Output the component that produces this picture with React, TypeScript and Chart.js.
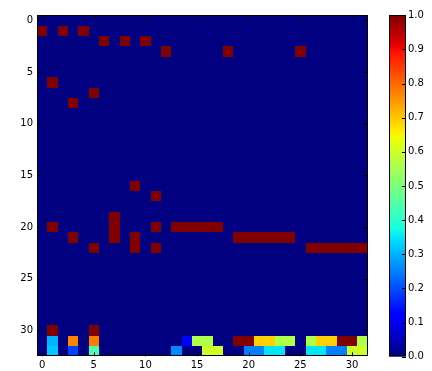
import React, { useEffect, useRef } from "react";
import { Chart, registerables } from "chart.js";
Chart.register(...registerables);

const nRows = 33;
const nCols = 32;
const xTicks = [0, 5, 10, 15, 20, 25, 30];
const yTicks = [0, 5, 10, 15, 20, 25, 30];
const cbTicks = [0, 0.1, 0.2, 0.3, 0.4, 0.5, 0.6, 0.7, 0.8, 0.9, 1.0];

// cells equal to 1.0 in rows 0..29: row -> columns
const fullRow1 = [0, 2, 4];
const fullRow2 = [6, 8, 10];
const fullRow3 = [12, 18, 25];
const fullRow6 = [1];
const fullRow7 = [5];
const fullRow8 = [3];
const fullRow16 = [9];
const fullRow17 = [11];
const fullRow19 = [7];
const fullRow20 = [1, 7, 11, 13, 14, 15, 16, 17];
const fullRow21 = [3, 7, 9, 19, 20, 21, 22, 23, 24];
const fullRow22 = [5, 9, 11, 26, 27, 28, 29, 30, 31];

// last three rows, full values
const row30 = [0, 1, 0, 0, 0, 1, 0, 0, 0, 0, 0, 0, 0, 0, 0, 0, 0, 0, 0, 0, 0, 0, 0, 0, 0, 0, 0, 0, 0, 0, 0, 0];
const row31 = [0, 0.3, 0, 0.77, 0, 0.78, 0, 0, 0, 0, 0, 0, 0, 0, 0.12, 0.56, 0.56, 0, 0, 1, 1, 0.69, 0.69, 0.56, 0.56, 0, 0.56, 0.69, 0.69, 1, 1, 0.56];
const row32 = [0, 0.32, 0, 0.19, 0, 0.44, 0, 0, 0, 0, 0, 0, 0, 0.26, 0, 0, 0.6, 0.6, 0, 0, 0.25, 0.25, 0.35, 0.35, 0, 0, 0.35, 0.35, 0.25, 0.25, 0.6, 0.6];

const fullRows: [number, number[]][] = [
  [1, fullRow1], [2, fullRow2], [3, fullRow3], [6, fullRow6], [7, fullRow7], [8, fullRow8],
  [16, fullRow16], [17, fullRow17], [19, fullRow19], [20, fullRow20], [21, fullRow21], [22, fullRow22],
];

function buildMatrix(): number[][] {
  const m: number[][] = [];
  for (let r = 0; r < nRows; r++) m.push(new Array(nCols).fill(0));
  fullRows.forEach(([r, cols]) => cols.forEach((c) => (m[r][c] = 1)));
  m[30] = row30.slice();
  m[31] = row31.slice();
  m[32] = row32.slice();
  return m;
}

function interp(stops: [number, number][], v: number) {
  for (let i = 1; i < stops.length; i++) {
    const [x0, y0] = stops[i - 1];
    const [x1, y1] = stops[i];
    if (v <= x1) return y0 + ((v - x0) / (x1 - x0)) * (y1 - y0);
  }
  return stops[stops.length - 1][1];
}
const jetR: [number, number][] = [[0, 0], [0.35, 0], [0.66, 1], [0.89, 1], [1, 0.5]];
const jetG: [number, number][] = [[0, 0], [0.125, 0], [0.375, 1], [0.64, 1], [0.91, 0], [1, 0]];
const jetB: [number, number][] = [[0, 0.5], [0.11, 1], [0.34, 1], [0.65, 0], [1, 0]];
function jet(v: number) {
  const t = Math.max(0, Math.min(1, v));
  const r = Math.round(interp(jetR, t) * 255);
  const g = Math.round(interp(jetG, t) * 255);
  const b = Math.round(interp(jetB, t) * 255);
  return `rgb(${r},${g},${b})`;
}

const FONT = { family: "DejaVu Sans", size: 10 };

const heatPlugin = {
  id: "heatCells",
  beforeDatasetsDraw(chart: any) {
    const { ctx, chartArea, scales } = chart;
    const xs = scales.x;
    const ys = scales.y;
    ctx.save();
    ctx.beginPath();
    ctx.rect(chartArea.left, chartArea.top, chartArea.right - chartArea.left, chartArea.bottom - chartArea.top);
    ctx.clip();
    const pts = chart.data.datasets[0].data as any[];
    pts.forEach((p) => {
      const xa = xs.getPixelForValue(p.x - 0.5);
      const xb = xs.getPixelForValue(p.x + 0.5);
      const ya = ys.getPixelForValue(p.y - 0.5);
      const yb = ys.getPixelForValue(p.y + 0.5);
      const x0 = Math.round(Math.min(xa, xb));
      const x1 = Math.round(Math.max(xa, xb));
      const y0 = Math.round(Math.min(ya, yb));
      const y1 = Math.round(Math.max(ya, yb));
      ctx.fillStyle = jet(p.v);
      ctx.fillRect(x0, y0, x1 - x0, y1 - y0);
    });
    ctx.restore();
  },
  afterDatasetsDraw(chart: any) {
    const { ctx, chartArea, scales } = chart;
    const { left, right, top, bottom } = chartArea;
    ctx.save();
    ctx.strokeStyle = "#000";
    ctx.lineWidth = 1;
    ctx.beginPath();
    xTicks.forEach((v) => {
      const px = Math.round(scales.x.getPixelForValue(v)) + 0.5;
      ctx.moveTo(px, top);
      ctx.lineTo(px, top + 4);
      ctx.moveTo(px, bottom);
      ctx.lineTo(px, bottom - 4);
    });
    yTicks.forEach((v) => {
      const py = Math.round(scales.y.getPixelForValue(v)) + 0.5;
      ctx.moveTo(left, py);
      ctx.lineTo(left + 4, py);
      ctx.moveTo(right, py);
      ctx.lineTo(right - 4, py);
    });
    ctx.stroke();
    ctx.strokeRect(Math.round(left) + 0.5, Math.round(top) + 0.5, Math.round(right - left) - 1, Math.round(bottom - top) - 1);
    ctx.restore();
  },
};

const cbPlugin = {
  id: "cbFrame",
  afterDatasetsDraw(chart: any) {
    const { ctx, chartArea, scales } = chart;
    const { left, right, top, bottom } = chartArea;
    ctx.save();
    ctx.strokeStyle = "#000";
    ctx.lineWidth = 1;
    ctx.beginPath();
    cbTicks.forEach((v) => {
      const py = Math.round(scales.y.getPixelForValue(v)) + 0.5;
      ctx.moveTo(right, py);
      ctx.lineTo(right - 4, py);
    });
    ctx.stroke();
    ctx.strokeRect(Math.round(left) + 0.5, Math.round(top) + 0.5, Math.round(right - left) - 1, Math.round(bottom - top) - 1);
    ctx.restore();
  },
};

export default function App() {
  const mainRef = useRef<HTMLCanvasElement | null>(null);
  const cbRef = useRef<HTMLCanvasElement | null>(null);

  useEffect(() => {
    const m = buildMatrix();
    const pts: { x: number; y: number; v: number }[] = [];
    for (let r = 0; r < nRows; r++) for (let c = 0; c < nCols; c++) pts.push({ x: c, y: r, v: m[r][c] });

    const main = new Chart(mainRef.current!, {
      type: "scatter",
      data: { datasets: [{ data: pts as any, pointRadius: 0, pointHoverRadius: 0 }] },
      options: {
        animation: false,
        responsive: true,
        maintainAspectRatio: false,
        events: [],
        layout: { padding: { left: 0, top: 15.3, right: 12.5, bottom: 0 } },
        plugins: { legend: { display: false }, tooltip: { enabled: false } },
        scales: {
          x: {
            type: "linear",
            min: -0.5,
            max: nCols - 0.5,
            afterBuildTicks: (s: any) => { s.ticks = xTicks.map((v) => ({ value: v })); },
            afterFit: (s: any) => { s.height = 14.7; },
            ticks: { font: FONT, color: "#000", padding: 3, maxRotation: 0, autoSkip: false },
            grid: { display: false, drawTicks: false },
            border: { display: false },
          },
          y: {
            type: "linear",
            reverse: true,
            min: -0.5,
            max: nRows - 0.5,
            afterBuildTicks: (s: any) => { s.ticks = yTicks.map((v) => ({ value: v })); },
            afterFit: (s: any) => { s.width = 37; },
            ticks: { font: FONT, color: "#000", padding: 4, autoSkip: false },
            grid: { display: false, drawTicks: false },
            border: { display: false },
          },
        },
      },
      plugins: [heatPlugin],
    });

    const cb = new Chart(cbRef.current!, {
      type: "bar",
      data: {
        labels: [""],
        datasets: [
          {
            data: [[0, 1]] as any,
            barPercentage: 1,
            categoryPercentage: 1,
            borderWidth: 0,
            backgroundColor: (ctx: any) => {
              const area = ctx.chart.chartArea;
              if (!area) return jet(0.5);
              const g = ctx.chart.ctx.createLinearGradient(0, area.bottom, 0, area.top);
              for (let i = 0; i <= 64; i++) g.addColorStop(i / 64, jet(i / 64));
              return g;
            },
          },
        ],
      },
      options: {
        animation: false,
        responsive: true,
        maintainAspectRatio: false,
        events: [],
        layout: { padding: { left: 9, top: 15.3, right: 0, bottom: 14.3 } },
        plugins: { legend: { display: false }, tooltip: { enabled: false } },
        scales: {
          x: { display: false },
          y: {
            position: "right",
            min: 0,
            max: 1,
            afterBuildTicks: (s: any) => { s.ticks = cbTicks.map((v) => ({ value: v })); },
            afterFit: (s: any) => { s.width = 26; },
            ticks: { font: FONT, color: "#000", padding: 2, autoSkip: false, callback: (v: any) => Number(v).toFixed(1) },
            grid: { display: false, drawTicks: false },
            border: { display: false },
          },
        },
      },
      plugins: [cbPlugin],
    });

    return () => {
      main.destroy();
      cb.destroy();
    };
  }, []);

  return (
    <div style={{ position: "fixed", left: 0, top: 0, width: 432, height: 371, background: "#fff" }}>
      <div style={{ position: "absolute", left: 0, top: 0, width: 380, height: 371 }}>
        <canvas ref={mainRef} />
      </div>
      <div style={{ position: "absolute", left: 380, top: 0, width: 52, height: 371 }}>
        <canvas ref={cbRef} />
      </div>
    </div>
  );
}
